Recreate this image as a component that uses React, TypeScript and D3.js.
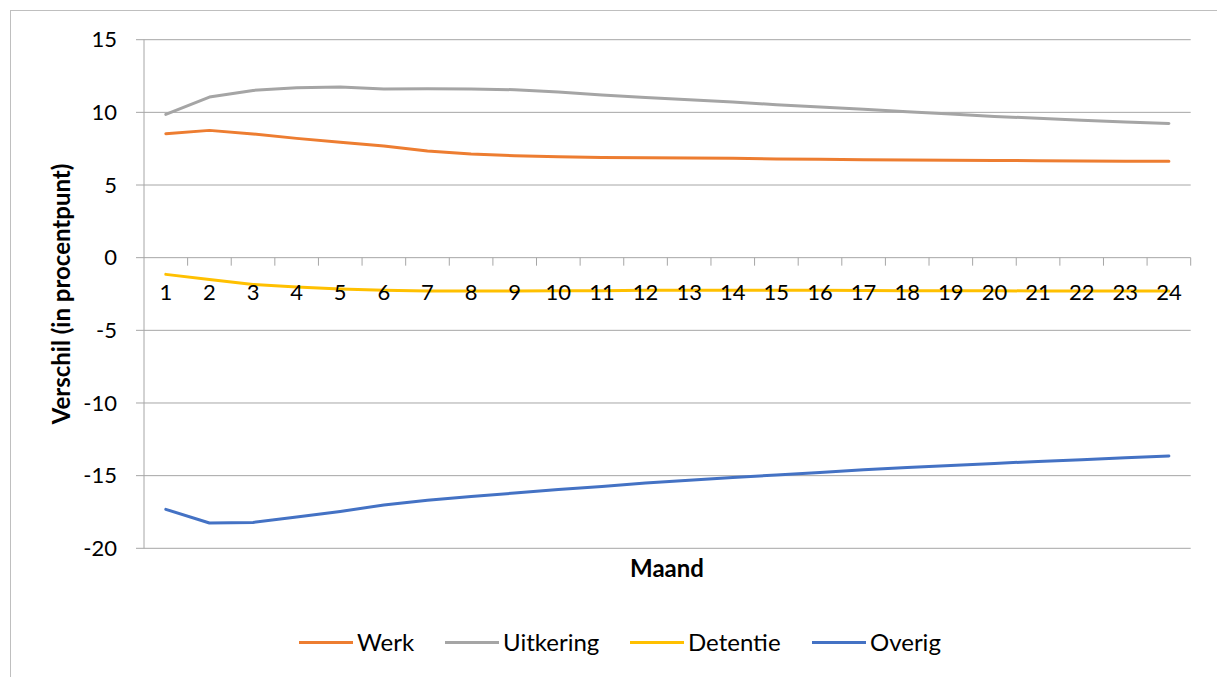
import React, { useEffect } from "react";
import * as d3 from "d3";

// maanden 1..24
const months = d3.range(1, 25).map(String);

const werk = [8.53, 8.76, 8.51, 8.21, 7.94, 7.68, 7.34, 7.13, 7.02, 6.95, 6.9, 6.88, 6.86, 6.84, 6.79, 6.77, 6.74, 6.72, 6.7, 6.69, 6.67, 6.65, 6.63, 6.63];
const uitkering = [9.86, 11.05, 11.51, 11.7, 11.74, 11.6, 11.63, 11.6, 11.56, 11.4, 11.19, 11.03, 10.87, 10.71, 10.53, 10.37, 10.21, 10.05, 9.88, 9.72, 9.59, 9.45, 9.33, 9.24];
const detentie = [-1.15, -1.51, -1.84, -2.02, -2.16, -2.25, -2.3, -2.3, -2.3, -2.28, -2.27, -2.25, -2.25, -2.24, -2.24, -2.25, -2.26, -2.27, -2.27, -2.28, -2.29, -2.3, -2.3, -2.3];
const overig = [-17.32, -18.26, -18.22, -17.85, -17.46, -17.02, -16.7, -16.43, -16.2, -15.95, -15.75, -15.5, -15.32, -15.13, -14.95, -14.78, -14.6, -14.44, -14.3, -14.16, -14.02, -13.9, -13.77, -13.65];

const seriesNames = ["Werk", "Uitkering", "Detentie", "Overig"];
const seriesColors = ["#ED7D31", "#A5A5A5", "#FFC000", "#4472C4"];
const yTicks = [15, 10, 5, 0, -5, -10, -15, -20];

const W = 1217;
const H = 677;
const FONT = "Lato, Calibri, 'Liberation Sans', sans-serif";

export default function App() {
  useEffect(() => {
    document.body.style.margin = "0";
  }, []);

  const seriesData = [werk, uitkering, detentie, overig];

  const x = d3.scaleBand<string>().domain(months).range([144, 1190.7]);
  const y = d3.scaleLinear().domain([-20, 15]).range([548.3, 39.7]);
  const cx = (m: string) => (x(m) ?? 0) + x.bandwidth() / 2;

  const line = d3
    .line<number>()
    .x((_, i) => cx(months[i]))
    .y((d) => y(d))
    .curve(d3.curveLinear);

  // legenda posities
  const legendX = [299, 445, 630, 812];
  const legendY = 642.5;

  return (
    <svg width={W} height={H} style={{ display: "block", background: "#fff" }} fontFamily={FONT}>
      {/* kader grafiekgebied */}
      <rect x={10.5} y={10.5} width={1300} height={800} fill="#fff" stroke="#BFBFBF" strokeWidth={1} />

      {/* rasterlijnen + y-ticks */}
      {yTicks.map((t) => (
        <line key={t} x1={136} x2={1190.7} y1={y(t)} y2={y(t)} stroke="#A6A6A6" strokeWidth={1} />
      ))}
      <line x1={144} x2={144} y1={y(15)} y2={y(-20)} stroke="#A6A6A6" strokeWidth={1} />

      {/* x-as tickjes op de nullijn */}
      {months.map((m) => (
        <line
          key={m}
          x1={(x(m) ?? 0) + x.bandwidth()}
          x2={(x(m) ?? 0) + x.bandwidth()}
          y1={y(0)}
          y2={y(0) + 8}
          stroke="#A6A6A6"
          strokeWidth={1}
        />
      ))}

      {/* lijnen */}
      {seriesData.map((s, i) => (
        <path
          key={seriesNames[i]}
          d={line(s) ?? ""}
          fill="none"
          stroke={seriesColors[i]}
          strokeWidth={3}
          strokeLinecap="round"
          strokeLinejoin="round"
        />
      ))}

      {/* y labels */}
      {yTicks.map((t) => (
        <text key={t} x={117} y={y(t)} dy="0.35em" textAnchor="end" fontSize={22} fill="#000">
          {t}
        </text>
      ))}

      {/* x labels */}
      {months.map((m) => (
        <text key={m} x={cx(m)} y={292} dy="0.35em" textAnchor="middle" fontSize={22} fill="#000">
          {m}
        </text>
      ))}

      {/* as-titels */}
      <text
        transform={`translate(62, ${(y(15) + y(-20)) / 2}) rotate(-90)`}
        textAnchor="middle"
        dy="0.35em"
        fontSize={24}
        fontWeight="bold"
        fill="#000"
      >
        Verschil (in procentpunt)
      </text>
      <text x={667} y={569} dy="0.35em" textAnchor="middle" fontSize={24} fontWeight="bold" fill="#000">
        Maand
      </text>

      {/* legenda */}
      {seriesNames.map((n, i) => (
        <g key={n}>
          <line x1={legendX[i]} x2={legendX[i] + 54} y1={legendY} y2={legendY} stroke={seriesColors[i]} strokeWidth={3} />
          <text x={legendX[i] + 58} y={legendY} dy="0.35em" fontSize={24} fill="#000">
            {n}
          </text>
        </g>
      ))}
    </svg>
  );
}
